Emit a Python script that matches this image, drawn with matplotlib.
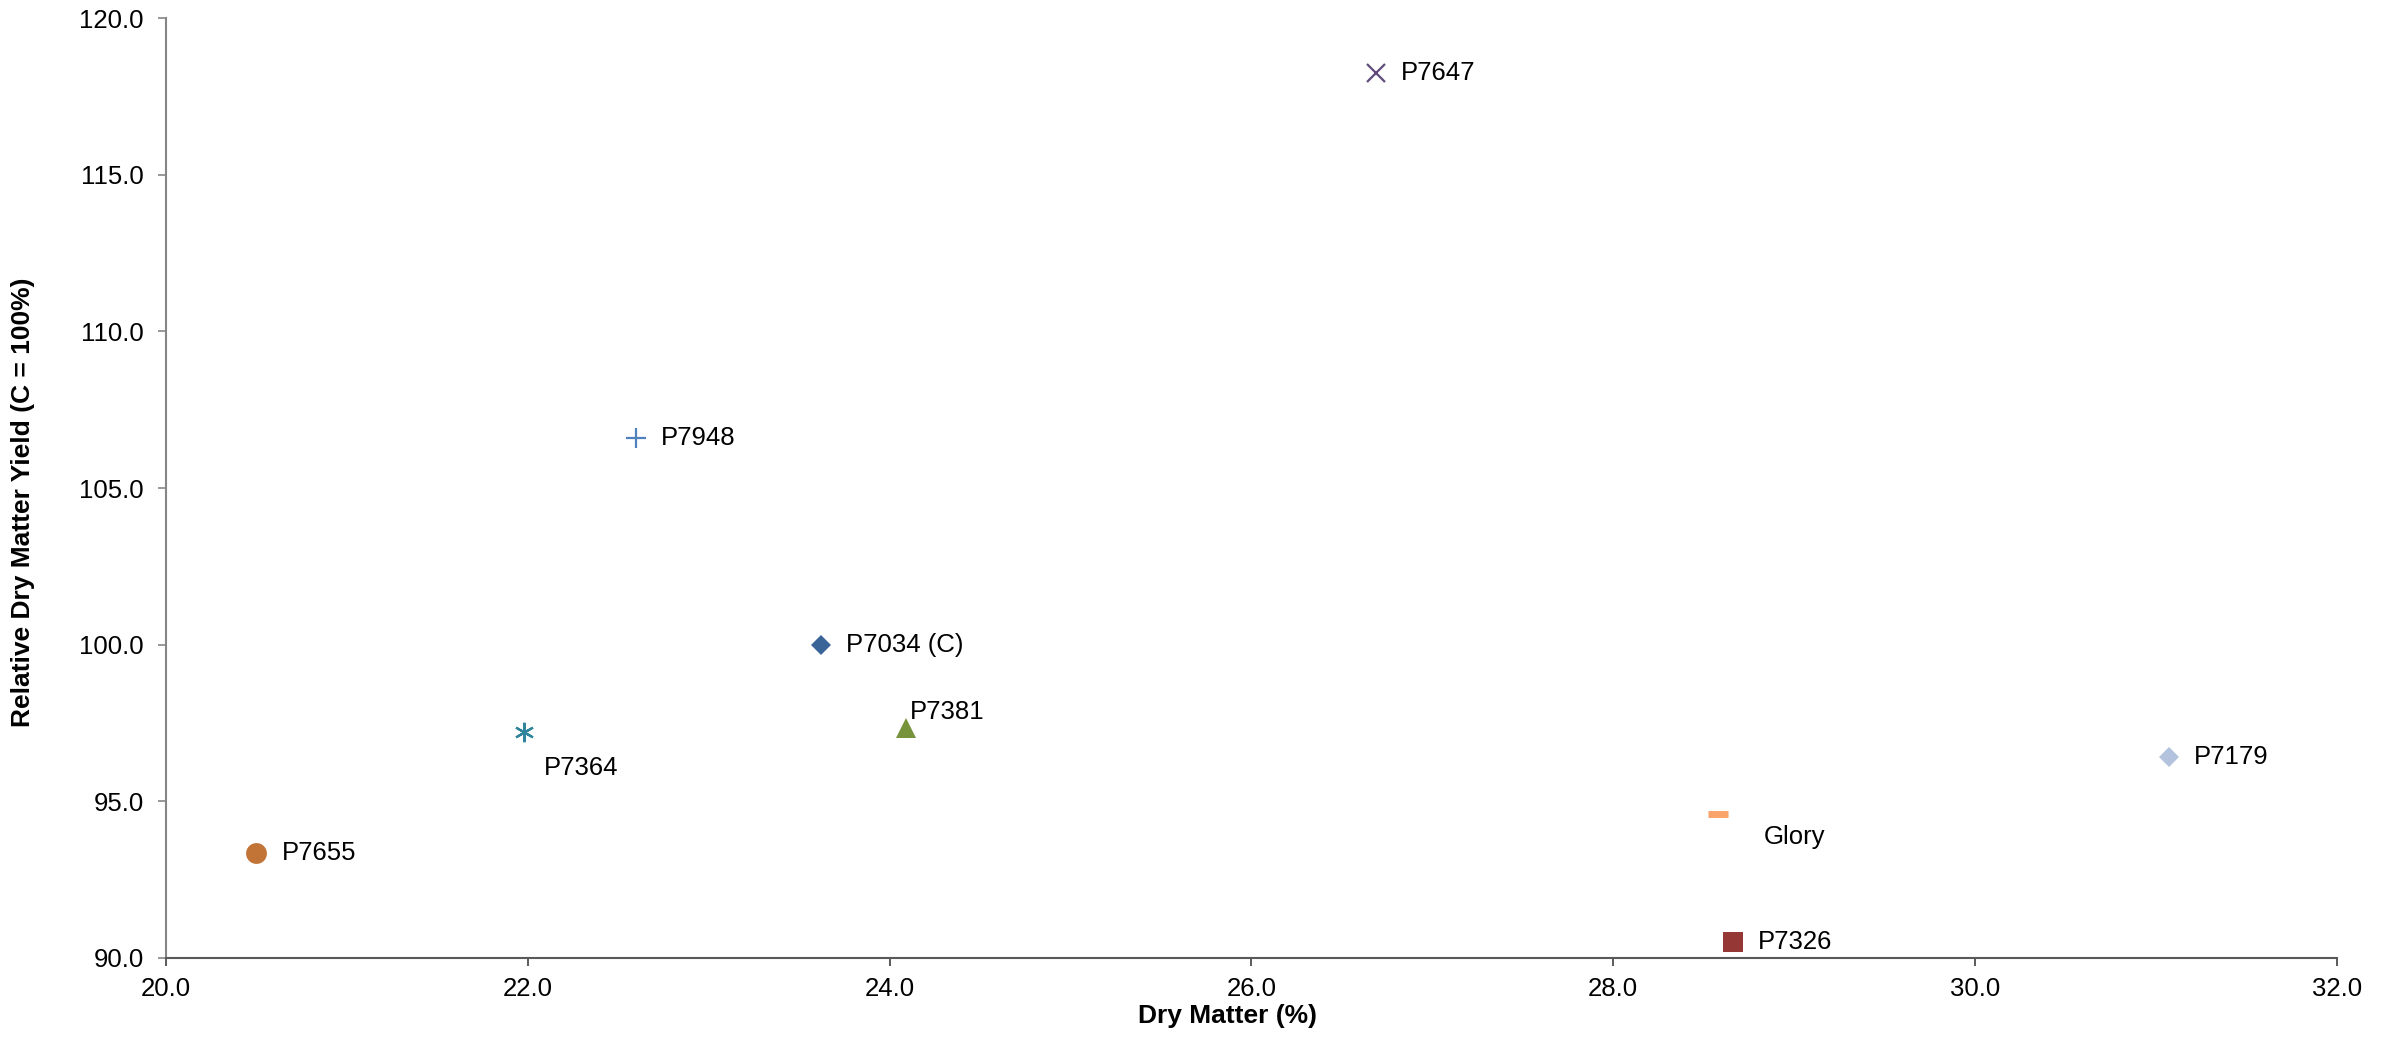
import matplotlib
matplotlib.use("Agg")
import matplotlib.pyplot as plt

plt.rcParams["font.family"] = ["Liberation Sans", "DejaVu Sans"]

# Hybrid trial results
hybrids = ["P7655", "P7364", "P7948", "P7034 (C)", "P7381", "P7647", "Glory", "P7326", "P7179"]
dry_matter = [20.50, 21.98, 22.60, 23.62, 24.09, 26.69, 28.58, 28.66, 31.07]
rel_yield = [93.36, 97.22, 106.6, 100.0, 97.35, 118.24, 94.6, 90.51, 96.41]

x_ticks = [20.0, 22.0, 24.0, 26.0, 28.0, 30.0, 32.0]
y_ticks = [90.0, 95.0, 100.0, 105.0, 110.0, 115.0, 120.0]

# Marker styling per hybrid: (marker, size, colour, edge width)
styles = {
    "P7655": ("o", 15, "#C27336", 0),
    "P7364": ((6, 2, 0), 14, "#31869B", 1.6),
    "P7948": ("+", 14, "#4F81BD", 1.6),
    "P7034 (C)": ("D", 10.5, "#3A6598", 0),
    "P7381": ("^", 14, "#77933C", 0),
    "P7647": ("x", 13, "#604A7B", 1.6),
    "Glory": ("_", 15, "#F9A46B", 5),
    "P7326": ("s", 15, "#953735", 0),
    "P7179": ("D", 10.5, "#B3C2DD", 0),
}
# Label offsets in points relative to each marker, with horizontal/vertical alignment
label_offsets = {
    "P7655": (18, 0, "left", "center"),
    "P7364": (14, -26, "left", "center"),
    "P7948": (18, 0, "left", "center"),
    "P7034 (C)": (18, 0, "left", "center"),
    "P7381": (3, 11, "left", "center"),
    "P7647": (18, 0, "left", "center"),
    "Glory": (33, -17, "left", "center"),
    "P7326": (18, 0, "left", "center"),
    "P7179": (18, 0, "left", "center"),
}

fig = plt.figure(figsize=(23.85, 10.38), dpi=100)
ax = fig.add_axes([0.0696, 0.0771, 0.9102, 0.9055])

for name, x, y in zip(hybrids, dry_matter, rel_yield):
    m, ms, c, mew = styles[name]
    ax.plot([x], [y], linestyle="none", marker=m, markersize=ms,
            color=c, markeredgecolor=c, markeredgewidth=mew, clip_on=False)
    dx, dy, ha, va = label_offsets[name]
    ax.annotate(name, (x, y), xytext=(dx, dy), textcoords="offset points",
                ha=ha, va=va, fontsize=18.5, color="#000000")

ax.set_xlim(20, 32)
ax.set_ylim(90, 120)
ax.set_xticks(x_ticks)
ax.set_yticks(y_ticks)
ax.set_xticklabels([f"{v:.1f}" for v in x_ticks])
ax.set_yticklabels([f"{v:.1f}" for v in y_ticks])
ax.tick_params(axis="both", direction="out", length=6, width=1.2, labelsize=18.5,
               colors="#000000")
ax.tick_params(axis="y", color="#868686", pad=10)
ax.tick_params(axis="x", color="#404040", pad=8)

for side in ("top", "right"):
    ax.spines[side].set_visible(False)
ax.spines["left"].set_color("#868686")
ax.spines["left"].set_linewidth(1.5)
ax.spines["bottom"].set_color("#595959")
ax.spines["bottom"].set_linewidth(1.5)

ax.set_xlabel("Dry Matter (%)", fontsize=19, fontweight="bold",
              va="center", ha="center")
ax.set_ylabel("Relative Dry Matter Yield (C = 100%)", fontsize=19,
              fontweight="bold", va="center", ha="center")
ax.xaxis.set_label_coords(0.489, -0.062)
ax.yaxis.set_label_coords(-0.066, 0.485)

fig.savefig("out.png", dpi=100, facecolor="white")
